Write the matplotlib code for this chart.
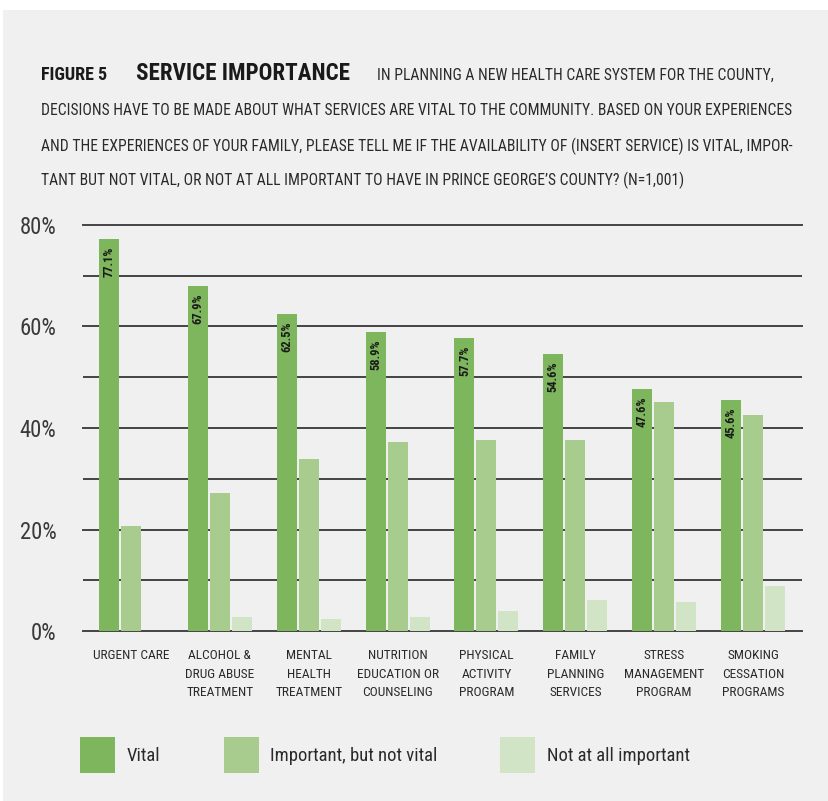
import matplotlib
matplotlib.use("Agg")
import matplotlib.pyplot as plt
from matplotlib.patches import Rectangle
from matplotlib import font_manager as fm
import numpy as np

categories = ["URGENT CARE", "ALCOHOL &\nDRUG ABUSE\nTREATMENT", "MENTAL\nHEALTH\nTREATMENT",
              "NUTRITION\nEDUCATION OR\nCOUNSELING", "PHYSICAL\nACTIVITY\nPROGRAM",
              "FAMILY\nPLANNING\nSERVICES", "STRESS\nMANAGEMENT\nPROGRAM", "SMOKING\nCESSATION\nPROGRAMS"]
vital = [77.1, 67.9, 62.5, 58.9, 57.7, 54.6, 47.6, 45.6]
important = [20.7, 27.2, 33.9, 37.3, 37.7, 37.7, 45.1, 42.6]
not_important = [0.0, 2.8, 2.4, 2.8, 4.0, 6.2, 5.8, 8.9]
series = ["Vital", "Important, but not vital", "Not at all important"]
colors = ["#7db65c", "#a8cb8e", "#d2e4c6"]
yticks = [0, 20, 40, 60, 80]
ytick_labels = ["0%", "20%", "40%", "60%", "80%"]

W, H = 829, 801
BG = "#f0f0f0"


def pick_font():
    names = {f.name for f in fm.fontManager.ttflist}
    for p in ["Liberation Sans Narrow", "Roboto Condensed", "Open Sans Condensed",
              "Noto Sans Condensed", "DejaVu Sans Condensed"]:
        if p in names:
            return {"family": [p, "DejaVu Sans"]}
    for f in fm.fontManager.ttflist:
        if f.name in ("Noto Sans", "Roboto", "Open Sans", "DejaVu Sans") and \
                str(f.stretch) in ("condensed", "semi-condensed", "extra-condensed"):
            return {"family": [f.name, "DejaVu Sans"], "stretch": f.stretch}
    return {"family": ["Liberation Sans", "DejaVu Sans"]}


FONT = pick_font()

fig = plt.figure(figsize=(W / 100, H / 100), dpi=100)
fig.patch.set_facecolor("white")
renderer = fig.canvas.get_renderer()


def fx(px):
    return px / W


def fy(py):
    return 1 - py / H


def fit(texts, target_px, horizontal=True):
    t0 = texts[0]
    bb = t0.get_window_extent(renderer)
    cur = bb.width if horizontal else bb.height
    size = t0.get_fontsize() * target_px / cur
    for t in texts:
        t.set_fontsize(size)
    return size


fig.patches.append(Rectangle((fx(3), 0), 1 - fx(3), fy(10), transform=fig.transFigure,
                             facecolor=BG, edgecolor="none", zorder=-10))

ax = fig.add_axes([fx(83), fy(631.3), fx(802) - fx(83), fy(224.7) - fy(631.3)])
ax.set_facecolor(BG)

x = np.arange(len(categories))
step = 0.2475
width = 0.225
for k, (vals, c) in enumerate(zip([vital, important, not_important], colors)):
    ax.bar(x + (k - 1) * step, vals, width=width, color=c, zorder=3, linewidth=0)

labels = []
for xi, v in zip(x, vital):
    labels.append(ax.text(xi - step, v - 1.5, f"{v:.1f}%", rotation=90, ha="center", va="top",
                          fontsize=10, fontweight="bold", color="#1a1a1a", zorder=4, **FONT))
fit(labels, 31, horizontal=False)

ax.set_ylim(0, 80)
ax.set_xlim(-0.54, 7.55)
ax.set_yticks(yticks)
ytl = ax.set_yticklabels(ytick_labels, fontsize=15, color="#3a3a3a", **FONT)
ax.set_yticks([10, 30, 50, 70], minor=True)
ax.tick_params(axis="y", which="both", length=0, pad=19)
ax.set_xticks(x)
xtl = ax.set_xticklabels(categories, fontsize=10, color="#2a2a2a", linespacing=1.55, **FONT)
ax.tick_params(axis="x", length=0, pad=13)
ax.yaxis.grid(True, which="both", color="#444444", linewidth=1.4, zorder=0)
ax.set_axisbelow(True)
for s in ax.spines.values():
    s.set_visible(False)

fig.canvas.draw()
fit([ytl[-1]] + list(ytl[:-1]), 37)
probe = fig.text(0, 0, "EDUCATION OR", fontsize=10, **FONT)
sz = fit([probe], 82)
probe.remove()
for t in xtl:
    t.set_fontsize(sz)
for gl in ax.get_ygridlines():
    gl.set_clip_on(False)

# title
t_fig = fig.text(fx(41), fy(80), "FIGURE 5", fontsize=11, fontweight="bold",
                 color="#1a1a1a", va="baseline", ha="left", **FONT)
fit([t_fig], 66)
t_srv = fig.text(fx(136), fy(80), "SERVICE IMPORTANCE", fontsize=16, fontweight="bold",
                 color="#1a1a1a", va="baseline", ha="left", **FONT)
fit([t_srv], 214)
title_lines = [
    (377, 80, "IN PLANNING A NEW HEALTH CARE SYSTEM FOR THE COUNTY,"),
    (41, 115, "DECISIONS HAVE TO BE MADE ABOUT WHAT SERVICES ARE VITAL TO THE COMMUNITY. BASED ON YOUR EXPERIENCES"),
    (41, 151, "AND THE EXPERIENCES OF YOUR FAMILY, PLEASE TELL ME IF THE AVAILABILITY OF (INSERT SERVICE) IS VITAL, IMPOR-"),
    (41, 185, "TANT BUT NOT VITAL, OR NOT AT ALL IMPORTANT TO HAVE IN PRINCE GEORGE\u2019S COUNTY? (N=1,001)"),
]
tl = []
for px, py, t in title_lines:
    tl.append(fig.text(fx(px), fy(py), t, fontsize=10, color="#2a2a2a",
                       va="baseline", ha="left", **FONT))
fit([tl[1], tl[0], tl[2], tl[3]], 751)

# legend
leg_sq = [80, 224, 500]
leg_tx = [127, 270, 547]
lt = []
for sx, tx, lab, c in zip(leg_sq, leg_tx, series, colors):
    fig.patches.append(Rectangle((fx(sx), fy(773)), fx(35), 36 / H, transform=fig.transFigure,
                                 facecolor=c, edgecolor="none"))
    lt.append(fig.text(fx(tx), fy(756), lab, fontsize=15, color="#2a2a2a",
                       va="center", ha="left", **FONT))
fit([lt[1], lt[0], lt[2]], 167)

fig.savefig("out.png", dpi=100, facecolor=fig.get_facecolor())
